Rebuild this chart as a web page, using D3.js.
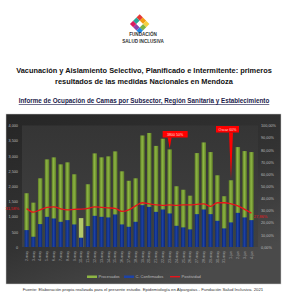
<!DOCTYPE html>
<html>
<head>
<meta charset="utf-8">
<script src="https://cdn.jsdelivr.net/npm/d3@7/dist/d3.min.js"></script>
<style>
  body { margin: 0; background: #fff; }
  svg { display: block; font-family: "Liberation Sans", Arial, sans-serif; }
</style>
</head>
<body>
<svg id="chart" width="288" height="300"></svg>
<script>
// datos
const fechas = ["2-may","3-may","4-may","5-may","6-may","7-may","8-may","9-may","10-may","11-may",
  "12-may","13-may","14-may","15-may","16-may","17-may","18-may","19-may","20-may","21-may",
  "22-may","23-may","24-may","25-may","26-may","27-may","28-may","29-may","30-may","31-may",
  "1-jun","2-jun","3-jun","4-jun"];
const procesados = [1770,1460,2262,2885,2951,2721,2787,2394,951,2066,
  3082,2951,2984,3148,2492,2180,2262,3672,3754,3328,
  3564,3213,2000,1885,1689,3092,3443,3125,2361,1672,
  2197,3289,3158,3125];
const confirmados = [557,338,754,994,940,830,885,743,306,689,
  1027,994,974,1072,744,666,830,1377,1321,1157,
  1236,1105,698,646,580,1082,1236,1082,863,613,
  810,1125,974,885];
const positividad = [31.58,28.7,30.6,32.6,33.0,31.4,30.6,31.0,31.2,31.8,
  33.0,32.6,32.2,31.8,29.3,30.6,33.9,36.4,35.5,34.7,
  34.3,34.7,34.3,34.7,34.7,35.1,35.5,33.5,36.4,36.4,
  35.5,33.9,31.0,27.86];
const ticksIzq = [0,500,1000,1500,2000,2500,3000,3500,4000];
const ticksDer = [0,10,20,30,40,50,60,70,80,90,100];
const llamadas = [{i: 21, texto: "3800 50%"}, {i: 30, texto: "Oscar 60%"}];

const svg = d3.select("#chart");

// ---------- encabezado ----------
const logo = svg.append("g").attr("transform", "translate(139.7,24) rotate(45)");
const colores = ["#e53935","#f39c12","#f4d03f","#7cb342","#1e88e5","#8e44ad","#d81b60","#26a69a"];
const s = 4.6;
[[-1,-1],[0,-1],[1,-1],[1,0],[1,1],[0,1],[-1,1],[-1,0]].forEach((p, k) => {
  logo.append("rect").attr("x", p[0]*s - s/2).attr("y", p[1]*s - s/2)
    .attr("width", s).attr("height", s).attr("fill", colores[k]);
});
logo.append("rect").attr("x", -s/2).attr("y", -s/2).attr("width", s).attr("height", s).attr("fill", "#fff");

svg.append("text").attr("x", 143).attr("y", 36).attr("text-anchor", "middle")
  .attr("font-size", 4.6).attr("font-weight", "bold").attr("fill", "#333").text("FUNDACIÓN");
svg.append("text").attr("x", 143).attr("y", 43).attr("text-anchor", "middle")
  .attr("font-size", 4.6).attr("font-weight", "bold").attr("fill", "#333").text("SALUD INCLUSIVA");

svg.append("text").attr("x", 144).attr("y", 72.5).attr("text-anchor", "middle")
  .attr("font-size", 7.4).attr("font-weight", "bold").attr("fill", "#111")
  .text("Vacunación y Aislamiento Selectivo, Planificado e Intermitente: primeros");
svg.append("text").attr("x", 144).attr("y", 84).attr("text-anchor", "middle")
  .attr("font-size", 7.4).attr("font-weight", "bold").attr("fill", "#111")
  .text("resultados de las medidas Nacionales en Mendoza");
svg.append("text").attr("x", 144).attr("y", 103).attr("text-anchor", "middle")
  .attr("font-size", 6.3).attr("font-weight", "bold").attr("fill", "#1a1a4a")
  .attr("text-decoration", "underline")
  .text("Informe de Ocupación de Camas por Subsector, Región Sanitaria y Establecimiento");

// ---------- fondo del grafico ----------
const defs = svg.append("defs");
const gFondo = defs.append("linearGradient").attr("id", "fondo")
  .attr("x1", 0).attr("y1", 0).attr("x2", 0.6).attr("y2", 1);
gFondo.append("stop").attr("offset", 0).attr("stop-color", "#262626");
gFondo.append("stop").attr("offset", 0.6).attr("stop-color", "#333");
gFondo.append("stop").attr("offset", 1).attr("stop-color", "#4a4a4a");
const gArea = defs.append("linearGradient").attr("id", "area")
  .attr("x1", 0).attr("y1", 0).attr("x2", 0).attr("y2", 1);
gArea.append("stop").attr("offset", 0).attr("stop-color", "#353535");
gArea.append("stop").attr("offset", 1).attr("stop-color", "#414141");
const gVerde = defs.append("linearGradient").attr("id", "verde")
  .attr("x1", 0).attr("y1", 0).attr("x2", 1).attr("y2", 0);
gVerde.append("stop").attr("offset", 0).attr("stop-color", "#5e7d25");
gVerde.append("stop").attr("offset", 0.45).attr("stop-color", "#8db544");
gVerde.append("stop").attr("offset", 1).attr("stop-color", "#5e7d25");
const gAzul = defs.append("linearGradient").attr("id", "azul")
  .attr("x1", 0).attr("y1", 0).attr("x2", 1).attr("y2", 0);
gAzul.append("stop").attr("offset", 0).attr("stop-color", "#0b2470");
gAzul.append("stop").attr("offset", 0.45).attr("stop-color", "#1d42a6");
gAzul.append("stop").attr("offset", 1).attr("stop-color", "#0b2470");

svg.append("rect").attr("x", 6).attr("y", 114).attr("width", 275).attr("height", 170)
  .attr("fill", "url(#fondo)").attr("stroke", "#ccc").attr("stroke-width", 0.5);

const margin = {top: 125.5, bottom: 247, left: 22, right: 258};
svg.append("rect").attr("x", margin.left).attr("y", margin.top)
  .attr("width", margin.right - margin.left).attr("height", margin.bottom - margin.top)
  .attr("fill", "url(#area)");

// ---------- escalas ----------
const x = d3.scaleBand().domain(fechas).range([margin.left, margin.right - 2]).padding(0.34);
const y = d3.scaleLinear().domain([0, 4000]).range([margin.bottom, margin.top]);
const y2 = d3.scaleLinear().domain([0, 100]).range([margin.bottom, margin.top]);

// ejes
svg.append("g").attr("transform", `translate(${margin.left - 2},0)`)
  .call(d3.axisLeft(y).tickValues(ticksIzq).tickSize(0).tickPadding(2))
  .call(g => g.select(".domain").remove())
  .selectAll("text").attr("fill", "#bbb").style("font-size", "3.8px");

svg.append("g").attr("transform", `translate(${margin.right + 2},0)`)
  .call(d3.axisRight(y2).tickValues(ticksDer).tickSize(0).tickPadding(1)
    .tickFormat(d => d3.format(".2f")(d).replace(".", ",") + "%"))
  .call(g => g.select(".domain").remove())
  .selectAll("text").attr("fill", "#bbb").style("font-size", "3.8px");

svg.append("g").attr("transform", `translate(0,${margin.bottom + 2})`)
  .call(d3.axisBottom(x).tickSize(0).tickPadding(0))
  .call(g => g.select(".domain").remove())
  .selectAll("text")
  .attr("fill", "#aaa").style("font-size", "3.6px")
  .attr("text-anchor", "end").attr("dy", "0.35em")
  .attr("transform", "rotate(-90)").attr("x", -2).attr("y", 0);

// ---------- barras ----------
svg.append("g").selectAll("rect")
  .data(procesados)
  .join("rect")
  .attr("x", (d, i) => x(fechas[i]))
  .attr("y", d => y(d))
  .attr("width", x.bandwidth())
  .attr("height", d => y(0) - y(d))
  .attr("fill", (d, i) => i === 8 ? "#b3c96a" : "url(#verde)");

svg.append("g").selectAll("rect")
  .data(confirmados)
  .join("rect")
  .attr("x", (d, i) => x(fechas[i]))
  .attr("y", d => y(d))
  .attr("width", x.bandwidth())
  .attr("height", d => y(0) - y(d))
  .attr("fill", "url(#azul)");

// ---------- linea de positividad ----------
const linea = d3.line()
  .x((d, i) => x(fechas[i]) + x.bandwidth() / 2)
  .y(d => y2(d))
  .curve(d3.curveMonotoneX);
svg.append("path").datum(positividad)
  .attr("d", linea).attr("fill", "none")
  .attr("stroke", "#e8141b").attr("stroke-width", 1.3);

svg.append("text").attr("x", 19).attr("y", y2(positividad[0]) + 1.3)
  .attr("text-anchor", "end").attr("font-size", 4).attr("fill", "#e8141b")
  .text("31,58%");
svg.append("text").attr("x", x(fechas[33]) + x.bandwidth()).attr("y", y2(positividad[33]) + 5)
  .attr("font-size", 4).attr("fill", "#e8141b")
  .text("27,86%");

// ---------- llamadas ----------
llamadas.forEach((c, k) => {
  const cx = x(fechas[c.i]) + x.bandwidth() / 2;
  const top = y(procesados[c.i]);
  const bx = k === 0 ? cx - 7 : cx - 15;
  const by = k === 0 ? 131 : 126;
  const w = k === 0 ? 25 : 23, h = 6.5;
  svg.append("path")
    .attr("d", `M${cx - 2},${by + h} L${cx},${top - 1} L${cx + 2},${by + h}Z`)
    .attr("fill", "#f00");
  svg.append("rect").attr("x", bx).attr("y", by).attr("width", w).attr("height", h)
    .attr("fill", "#f00");
  svg.append("text").attr("x", bx + w / 2).attr("y", by + h / 2 + 1.3)
    .attr("text-anchor", "middle").attr("font-size", 3.6).attr("fill", "#fdd")
    .text(c.texto);
});

// ---------- leyenda ----------
const leyenda = [
  {t: "Procesados", c: "#8db544", x: 87, tipo: "rect"},
  {t: "C. Confirmados", c: "#1d42a6", x: 124, tipo: "rect"},
  {t: "Positividad", c: "#e8141b", x: 170, tipo: "line"}
];
leyenda.forEach(l => {
  if (l.tipo === "rect") {
    svg.append("rect").attr("x", l.x).attr("y", 275.5).attr("width", 10).attr("height", 2.5).attr("fill", l.c);
  } else {
    svg.append("rect").attr("x", l.x).attr("y", 276).attr("width", 10).attr("height", 1.4).attr("fill", l.c);
  }
  svg.append("text").attr("x", l.x + 11.5).attr("y", 278.2).attr("font-size", 4)
    .attr("fill", "#bbb").text(l.t);
});

// ---------- fuente ----------
svg.append("text").attr("x", 143).attr("y", 291).attr("text-anchor", "middle")
  .attr("font-size", 4.3).attr("fill", "#333")
  .text("Fuente: Elaboración propia realizada para el presente estudio. Epidemiología en Alpargatas - Fundación Salud Inclusiva. 2021");
</script>
</body>
</html>
